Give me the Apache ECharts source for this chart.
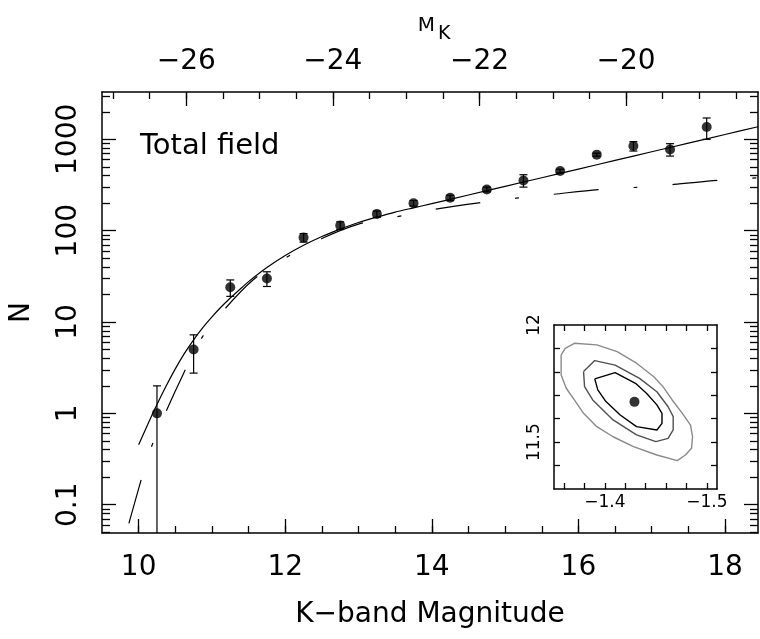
<!DOCTYPE html>
<html>
<head>
<meta charset="utf-8">
<title>K-band counts</title>
<script src="https://cdn.jsdelivr.net/npm/echarts@6/dist/echarts.min.js"></script>
<style>
  html, body { margin: 0; padding: 0; background: #fff; }
  #chart { width: 760px; height: 639px; }
</style>
</head>
<body>
<div id="chart"></div>
<script>
// --- Data ---
const binMag   = [10.25, 10.75, 11.25, 11.75, 12.25, 12.75, 13.25, 13.75, 14.25, 14.75, 15.25, 15.75, 16.25, 16.75, 17.25, 17.75];
const binCount = [1, 5, 24, 30, 84, 114, 152, 200, 229, 283, 355, 450, 680, 845, 776, 1365];
const errLow   = [0, 2.76, 19.1, 24.5, 75, 103, 140, 186, 214, 266, 300, 429, 654, 745, 656, 1000];
const errHigh  = [2, 7.24, 28.9, 35.5, 93, 125, 164, 214, 244, 300, 410, 471, 706, 944, 897, 1714];

// best fit (solid)
const fitMag   = [10.0, 10.125, 10.25, 10.375, 10.5, 10.625, 10.75, 10.875, 11.0, 11.125, 11.25, 11.375, 11.5, 11.75, 12.0, 12.25, 12.5, 12.75, 13.0, 13.25, 13.5, 13.75, 14.0, 14.5, 15.0, 15.5, 16.0, 16.5, 17.0, 17.5, 18.0, 18.45];
const fitCount = [0.452, 0.762, 1.25, 1.99, 3.07, 4.53, 6.38, 8.68, 11.4, 14.6, 18.3, 22.6, 27.7, 39.5, 53.5, 69.2, 86.4, 104, 123, 141, 160, 178, 198, 246, 306, 380, 473, 588, 731, 908, 1130, 1374];

// model (dash-dot), starts just below the frame
const modelMag   = [9.793, 9.83, 10.0, 10.15, 10.34, 10.6, 10.85, 11.14, 11.56, 12.0, 12.5, 13.0, 13.5, 14.03, 14.64, 15.15, 15.65, 16.27, 16.78, 17.3, 17.9, 18.45];
const modelCount = [0.0385, 0.049, 0.15, 0.38, 0.91, 2.6, 6.5, 12.9, 28.8, 50, 82, 118, 141, 171, 202, 227, 250, 282, 298, 321, 355, 380];

// inset: confidence contours (slope, M*)
const innerX = [-1.390, -1.410, -1.430, -1.441, -1.451, -1.456, -1.456, -1.451, -1.431, -1.415, -1.401, -1.393];
const innerY = [11.770, 11.797, 11.751, 11.708, 11.659, 11.623, 11.580, 11.552, 11.566, 11.616, 11.673, 11.723];
const middleX = [-1.379, -1.390, -1.410, -1.434, -1.451, -1.462, -1.467, -1.467, -1.462, -1.450, -1.431, -1.408, -1.388, -1.380];
const middleY = [11.801, 11.848, 11.829, 11.772, 11.715, 11.651, 11.609, 11.552, 11.516, 11.502, 11.531, 11.595, 11.680, 11.737];
const outerX = [-1.357, -1.361, -1.370, -1.392, -1.412, -1.431, -1.448, -1.457, -1.466, -1.476, -1.484, -1.486, -1.485, -1.479, -1.471, -1.451, -1.428, -1.408, -1.392, -1.379, -1.370, -1.362, -1.357, -1.357];
const outerY = [11.872, 11.900, 11.922, 11.915, 11.886, 11.837, 11.779, 11.737, 11.680, 11.623, 11.573, 11.523, 11.474, 11.445, 11.421, 11.445, 11.481, 11.523, 11.566, 11.623, 11.680, 11.730, 11.787, 11.837];
const bestFit = [-1.429, 11.672];

// --- Axes / ticks ---
const kRange = [9.5, 18.45];
const nRange = [0.049, 3300];
const distMod = 36.65;           // M_K = K - distMod
const kLabels = [10, 12, 14, 16, 18];
const mkLabels = [-26, -24, -22, -20];
const nLabels = [0.1, 1, 10, 100, 1000];
const slopeLabels = [-1.4, -1.5];
const mstarLabels = [11.5, 12];

const kMinor = [];
for (let v = 10; v <= 18; v += 0.5) kMinor.push(v);
const mkMinor = [];
for (let v = -27; v <= -18.5; v += 0.5) mkMinor.push(v);
const nMinor = [];
[0.01, 0.1, 1, 10, 100, 1000].forEach(d => {
    for (let k = 2; k <= 9; k++) {
        const v = +(k * d).toPrecision(3);
        if (v > nRange[0] && v < nRange[1]) nMinor.push(v);
    }
});
const slopeTicks = [-1.36, -1.38, -1.40, -1.42, -1.44, -1.46, -1.48, -1.50];
const mstarTicks = [11.4, 11.5, 11.6, 11.7, 11.8, 11.9];

const FONT = 'DejaVu Sans';
const minus = s => String(s).replace('-', '\u2212');

function frameAxis(extra) {
    const base = {
        type: 'value',
        axisLine: { show: false, onZero: false, lineStyle: { color: '#000', width: 1.5 } },
        axisTick: { show: false },
        axisLabel: { show: false },
        splitLine: { show: false }
    };
    return Object.assign(base, extra);
}
const frameLine = { show: true, onZero: false, lineStyle: { color: '#000', width: 1.5 } };
const ticks = (values, len) => ({ show: true, inside: true, length: len, customValues: values, lineStyle: { color: '#000', width: 1.3 } });
const zip = (a, b) => a.map((v, i) => [v, b[i]]);
const closeLoop = (a, b) => { const d = zip(a, b); d.push(d[0]); return d; };

const chart = echarts.init(document.getElementById('chart'));

const option = {
    animation: false,
    backgroundColor: '#fff',
    textStyle: { fontFamily: FONT },
    grid: [
        { left: 101, right: 2, top: 92, bottom: 106 },
        { left: 554, right: 43, top: 325, bottom: 150 }
    ],
    xAxis: [
        // main bottom (K)
        frameAxis({
            gridIndex: 0, position: 'bottom', min: kRange[0], max: kRange[1],
            axisLine: frameLine,
            axisTick: ticks(kLabels, 14),
            axisLabel: { show: true, customValues: kLabels, margin: 21, fontSize: 28, color: '#000', fontFamily: FONT },
            name: 'K\u2212band Magnitude', nameLocation: 'middle', nameGap: 68,
            nameTextStyle: { fontSize: 28, color: '#000', fontFamily: FONT }
        }),
        frameAxis({ gridIndex: 0, position: 'bottom', min: kRange[0], max: kRange[1], axisTick: ticks(kMinor, 7) }),
        // main top (M_K)
        frameAxis({
            gridIndex: 0, position: 'top', min: kRange[0] - distMod, max: kRange[1] - distMod,
            axisLine: frameLine,
            axisTick: ticks(mkLabels, 14),
            axisLabel: { show: true, customValues: mkLabels, margin: 16, fontSize: 28, color: '#000', fontFamily: FONT, formatter: v => minus(v) },
            name: '{m|M}{k|K}', nameLocation: 'middle', nameGap: 48,
            nameTextStyle: {
                color: '#000', fontFamily: FONT, fontSize: 19,
                rich: {
                    m: { fontSize: 20, lineHeight: 20, verticalAlign: 'top', color: '#000', fontFamily: FONT, padding: [0, 3, 0, 8] },
                    k: { fontSize: 19, lineHeight: 19, color: '#000', fontFamily: FONT, padding: [16, 0, 0, 0] }
                }
            }
        }),
        frameAxis({ gridIndex: 0, position: 'top', min: kRange[0] - distMod, max: kRange[1] - distMod, axisTick: ticks(mkMinor, 7) }),
        // inset bottom / top (slope)
        frameAxis({
            gridIndex: 1, position: 'bottom', min: -1.51, max: -1.35, inverse: true,
            axisLine: frameLine,
            axisTick: ticks(slopeTicks, 6),
            axisLabel: { show: true, customValues: slopeLabels, margin: 5, fontSize: 17, color: '#000', fontFamily: FONT, formatter: v => minus(v.toFixed(1)) }
        }),
        frameAxis({
            gridIndex: 1, position: 'top', min: -1.51, max: -1.35, inverse: true,
            axisLine: frameLine,
            axisTick: ticks(slopeTicks, 6)
        })
    ],
    yAxis: [
        // main left (N, log)
        frameAxis({
            type: 'log', logBase: 10, gridIndex: 0, position: 'left', min: nRange[0], max: nRange[1],
            axisLine: frameLine,
            axisTick: ticks(nLabels, 14),
            axisLabel: { show: true, customValues: nLabels, rotate: 90, margin: 19, fontSize: 28, color: '#000', fontFamily: FONT, formatter: v => String(+(+v).toPrecision(3)) },
            name: 'N', nameLocation: 'middle', nameRotate: 90, nameGap: 66,
            nameTextStyle: { fontSize: 28, color: '#000', fontFamily: FONT }
        }),
        frameAxis({ type: 'log', logBase: 10, gridIndex: 0, position: 'left', min: nRange[0], max: nRange[1], axisTick: ticks(nMinor, 8) }),
        // main right
        frameAxis({
            type: 'log', logBase: 10, gridIndex: 0, position: 'right', min: nRange[0], max: nRange[1],
            axisLine: frameLine,
            axisTick: ticks(nLabels, 14)
        }),
        frameAxis({ type: 'log', logBase: 10, gridIndex: 0, position: 'right', min: nRange[0], max: nRange[1], axisTick: ticks(nMinor, 8) }),
        // inset left / right (M*)
        frameAxis({
            gridIndex: 1, position: 'left', min: 11.3, max: 12.0,
            axisLine: frameLine,
            axisTick: ticks(mstarTicks, 6),
            axisLabel: { show: true, customValues: mstarLabels, rotate: 90, margin: 11, fontSize: 17, color: '#000', fontFamily: FONT }
        }),
        frameAxis({
            gridIndex: 1, position: 'right', min: 11.3, max: 12.0,
            axisLine: frameLine,
            axisTick: ticks(mstarTicks, 6)
        })
    ],
    graphic: [
        { type: 'text', left: 140, top: 132, style: { text: 'Total field', fontSize: 29, fontFamily: FONT, fill: '#000' } }
    ],
    series: [
        {
            name: 'fit', type: 'line', xAxisIndex: 0, yAxisIndex: 0,
            data: zip(fitMag, fitCount), showSymbol: false, symbol: 'none', smooth: 0.25,
            lineStyle: { color: '#000', width: 1.2 }, z: 3
        },
        {
            name: 'model', type: 'line', xAxisIndex: 0, yAxisIndex: 0,
            data: zip(modelMag, modelCount), showSymbol: false, symbol: 'none', smooth: 0.3,
            lineStyle: { color: '#000', width: 1.2, type: [45, 35, 4, 35], dashOffset: -20 }, z: 3
        },
        {
            name: 'errors', type: 'custom', xAxisIndex: 0, yAxisIndex: 0,
            data: binMag.map((m, i) => [m, binCount[i], errLow[i], errHigh[i]]),
            renderItem: function (params, api) {
                const x = api.value(0);
                const lo = api.value(2);
                const hi = api.value(3);
                const top = api.coord([x, hi]);
                const cs = params.coordSys;
                const bottomY = lo > 0 ? api.coord([x, lo])[1] : cs.y + cs.height;
                const style = { stroke: '#000', lineWidth: 1.2 };
                const children = [
                    { type: 'line', shape: { x1: top[0], y1: top[1], x2: top[0], y2: bottomY }, style: style },
                    { type: 'line', shape: { x1: top[0] - 4, y1: top[1], x2: top[0] + 4, y2: top[1] }, style: style }
                ];
                if (lo > 0) children.push({ type: 'line', shape: { x1: top[0] - 4, y1: bottomY, x2: top[0] + 4, y2: bottomY }, style: style });
                return { type: 'group', children: children };
            },
            z: 4
        },
        {
            name: 'counts', type: 'scatter', xAxisIndex: 0, yAxisIndex: 0,
            data: zip(binMag, binCount), symbol: 'circle', symbolSize: 10,
            itemStyle: { color: '#000' }, z: 5
        },
        {
            type: 'line', xAxisIndex: 4, yAxisIndex: 4, data: closeLoop(outerX, outerY),
            showSymbol: false, symbol: 'none', lineStyle: { color: '#8a8a8a', width: 1.4 }
        },
        {
            type: 'line', xAxisIndex: 4, yAxisIndex: 4, data: closeLoop(middleX, middleY),
            showSymbol: false, symbol: 'none', lineStyle: { color: '#505050', width: 1.4 }
        },
        {
            type: 'line', xAxisIndex: 4, yAxisIndex: 4, data: closeLoop(innerX, innerY),
            showSymbol: false, symbol: 'none', lineStyle: { color: '#000', width: 1.4 }
        },
        {
            type: 'scatter', xAxisIndex: 4, yAxisIndex: 4, data: [bestFit],
            symbol: 'circle', symbolSize: 10, itemStyle: { color: '#000' }
        }
    ]
};

chart.setOption(option);
</script>
</body>
</html>
